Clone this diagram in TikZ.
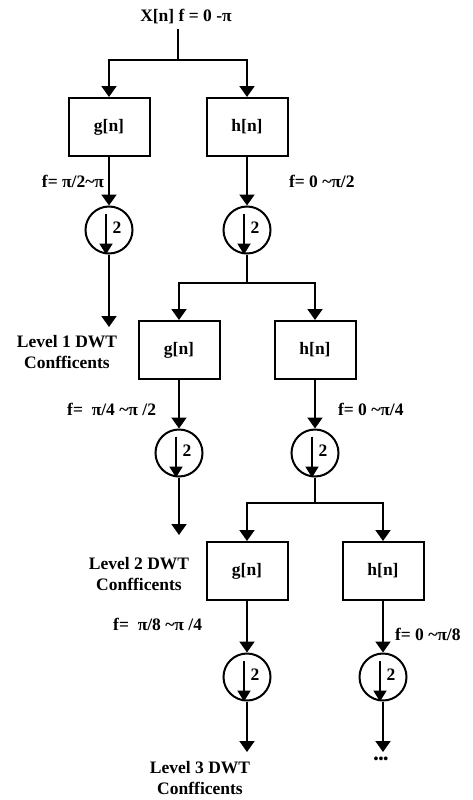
\documentclass[tikz,border=0pt]{standalone}
\usepackage{fontspec}
\setmainfont{Liberation Serif}
\usetikzlibrary{arrows.meta,positioning}

\begin{document}
\begin{tikzpicture}[x=1pt, y=-1pt, line width=2pt,
        font=\fontsize{17.5}{21}\selectfont\bfseries,
        node distance=103pt and 68pt, on grid,
        box/.style = {draw, minimum width=81pt, minimum height=58pt, inner sep=0pt},
        dwn/.style = {draw, circle, minimum size=47pt, inner sep=0pt},
        arr/.style = {-{Triangle[width=15pt,length=11pt]}},
        lvl/.style = {align=center, inner sep=0pt},
        lab/.style = {inner sep=0pt}]
            \useasboundingbox (0,0) rectangle (473,800);

            \node (X) at (186,17) {X[n] f = 0 -π};
            \coordinate (fk1) at (178,60);

            \node[box] (g1) at (109,127) {g[n]};
            \node[box] (h1) at (247,127) {h[n]};
            \node[dwn] (d1g) [below=of g1] {};
            \node[dwn] (d1h) [below=of h1] {};

            \draw (X.south -| fk1) -- (fk1);
            \draw[arr] (fk1) -| (g1);
            \draw[arr] (fk1) -| (h1);
            \draw[arr] (g1) -- (d1g) node[lab, midway, anchor=east, xshift=-4pt] (fg1) {f= π/2\textasciitilde π};
            \draw[arr] (h1) -- (d1h) node[lab, midway, anchor=west, xshift=41pt] (fh1) {f= 0 \textasciitilde π/2};

            % level 1 output
            \node[lvl] (lv1) at (67,352) {Level 1 DWT\\Confficents};
            \coordinate (e1) at (109,327);
            \draw[arr] (d1g) -- (e1);

            \coordinate (fk2) at (247,283);
            \node[box] (g2) [below left=120pt and 68pt of d1h] {g[n]};
            \node[box] (h2) [below right=120pt and 68pt of d1h] {h[n]};
            \node[dwn] (d2g) [below=of g2] {};
            \node[dwn] (d2h) [below=of h2] {};

            \draw (d1h) -- (fk2);
            \draw[arr] (fk2) -| (g2);
            \draw[arr] (fk2) -| (h2);
            \draw[arr] (g2) -- (d2g) node[lab, midway, anchor=east, xshift=-22pt, yshift=-5pt] (fg2) {f=\ \ π/4 \textasciitilde π /2};
            \draw[arr] (h2) -- (d2h) node[lab, midway, anchor=west, xshift=22pt, yshift=-5pt] (fh2) {f= 0 \textasciitilde π/4};

            % level 2 output
            \node[lvl] (lv2) at (139,574) {Level 2 DWT\\Confficents};
            \coordinate (e2) at (179,535);
            \draw[arr] (d2g) -- (e2);

            \coordinate (fk3) at (315,503);
            \node[box] (g3) [below left=118pt and 68pt of d2h] {g[n]};
            \node[box] (h3) [below right=118pt and 68pt of d2h] {h[n]};
            \node[dwn] (d3g) [below=106pt of g3] {};
            \node[dwn] (d3h) [below=106pt of h3] {};

            \draw (d2h) -- (fk3);
            \draw[arr] (fk3) -| (g3);
            \draw[arr] (fk3) -| (h3);
            \draw[arr] (g3) -- (d3g) node[lab, midway, anchor=east, xshift=-44pt, yshift=2pt] (fg3) {f=\ \ π/8 \textasciitilde π /4};
            \draw[arr] (h3) -- (d3h) node[lab, midway, anchor=west, xshift=11pt, yshift=-8pt] (fh3) {f= 0 \textasciitilde π/8};

            % level 3 output
            \node[lvl] (lv3) at (200,778) {Level 3 DWT\\Confficents};
            \coordinate (e3) at (247,752);
            \coordinate (e4) at (383,752);
            \draw[arr] (d3g) -- (e3);
            \draw[arr] (d3h) -- (e4);
            \node[lab, font=\fontsize{14}{14}\selectfont\bfseries] (more) at (381,760) {•••};

            % the down-sampling marks
            \foreach \c in {d1g,d1h,d2g,d2h,d3g,d3h} {
                \draw[-{Triangle[width=13pt,length=11pt]}] ([xshift=-3pt,yshift=-8pt]\c.north) -- ([xshift=-3pt]\c.south);
                \node (\c-2) at ([xshift=8pt,yshift=2pt]\c.center) {2};
            }
        \end{tikzpicture}
\end{document}
